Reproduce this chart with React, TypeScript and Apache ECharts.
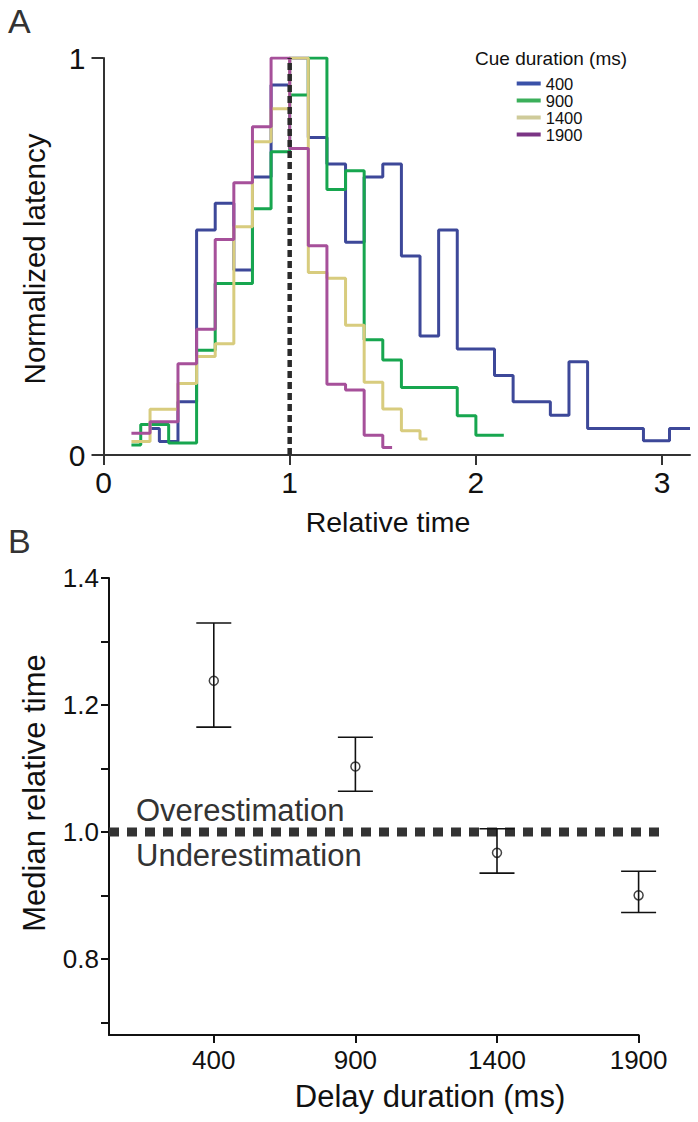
import React, { useEffect, useRef } from "react";
import * as echarts from "echarts";

// ---------- Panel A data ----------
const cueDurations = ["400", "900", "1400", "1900"];

const edges400 = [0.25, 0.3, 0.4, 0.5, 0.6, 0.7, 0.8, 0.9, 1.0, 1.1, 1.2, 1.3, 1.4, 1.5, 1.6, 1.7, 1.8, 1.9, 2.1, 2.2, 2.4, 2.5, 2.6, 2.9, 3.04, 3.15];
const latency400 = [0.067, 0.034, 0.134, 0.567, 0.634, 0.466, 0.7, 0.932, 1.0, 0.8, 0.733, 0.536, 0.7, 0.733, 0.501, 0.3, 0.567, 0.267, 0.2, 0.134, 0.1, 0.235, 0.067, 0.036, 0.067];

const edges900 = [0.15, 0.2, 0.35, 0.5, 0.6, 0.8, 0.9, 1.0, 1.1, 1.2, 1.3, 1.4, 1.5, 1.6, 1.9, 2.0, 2.15];
const latency900 = [0.025, 0.077, 0.03, 0.264, 0.432, 0.62, 0.764, 0.907, 1.0, 0.669, 0.716, 0.29, 0.239, 0.17, 0.099, 0.05];

const edges1400 = [0.15, 0.25, 0.4, 0.5, 0.6, 0.7, 0.8, 0.9, 1.0, 1.1, 1.2, 1.3, 1.4, 1.5, 1.6, 1.7, 1.74];
const latency1400 = [0.034, 0.115, 0.18, 0.248, 0.28, 0.575, 0.789, 0.872, 1.0, 0.46, 0.445, 0.327, 0.183, 0.116, 0.061, 0.04];

const edges1900 = [0.15, 0.25, 0.4, 0.5, 0.6, 0.7, 0.8, 0.9, 1.0, 1.1, 1.2, 1.3, 1.4, 1.5, 1.55];
const latency1900 = [0.055, 0.084, 0.23, 0.317, 0.543, 0.686, 0.827, 1.0, 0.772, 0.527, 0.178, 0.164, 0.05, 0.019];

const relTimeTicks = [0, 1, 2, 3];
const latencyTicks = [0, 1];

// ---------- Panel B data ----------
const delayDurations = [400, 900, 1400, 1900];
const medianRelTime = [1.238, 1.103, 0.967, 0.9];
const errLow = [1.165, 1.064, 0.935, 0.873];
const errHigh = [1.329, 1.149, 1.005, 0.938];
const medianTicks = [0.7, 0.8, 0.9, 1.0, 1.1, 1.2, 1.3, 1.4];
const medianLabels = [0.8, 1.0, 1.2, 1.4];
const referenceLine = [[30, 1978, 1.0]];

const histColors = ["#3d4899", "#17a64f", "#d8cc7e", "#a6509a"];
const legendColors = ["#3a51a8", "#3baf5a", "#cfcb9a", "#7b3585"];

const FONT = "'Liberation Sans', Arial, Helvetica, sans-serif";

function stepPoints(edges: number[], vals: number[]) {
  return edges.map((e, i) => [e, i < vals.length ? vals[i] : vals[vals.length - 1]]);
}

export default function App() {
  const ref = useRef<HTMLDivElement>(null);

  useEffect(() => {
    const chart = echarts.init(ref.current!, null, { renderer: "svg" });
    const hist = [
      [edges400, latency400],
      [edges900, latency900],
      [edges1400, latency1400],
      [edges1900, latency1900],
    ];

    const histSeries = hist.map(([e, v], i) => ({
      type: "line",
      name: cueDurations[i],
      xAxisIndex: 0,
      yAxisIndex: 0,
      step: "end",
      symbol: "none",
      data: stepPoints(e as number[], v as number[]),
      lineStyle: { color: histColors[i], width: 3 },
      itemStyle: { color: histColors[i] },
      z: 2 + i,
    }));

    const titleStyle = (text: string, size: number) => ({
      text,
      fontSize: size,
      fill: "#111",
      fontFamily: FONT,
      align: "center",
      verticalAlign: "middle",
    });

    const option: any = {
      animation: false,
      backgroundColor: "#fff",
      textStyle: { fontFamily: FONT },
      grid: [
        { left: 103.5, top: 58, width: 586.5, height: 397 },
        { left: 109, top: 578, width: 529.6, height: 457 },
      ],
      xAxis: [
        {
          gridIndex: 0,
          type: "value",
          min: 0,
          max: 3.15,
          axisLine: { show: true, onZero: false, lineStyle: { color: "#333", width: 2 } },
          axisTick: { show: true, length: 10, customValues: relTimeTicks, lineStyle: { color: "#333", width: 2 } },
          axisLabel: { customValues: relTimeTicks, fontSize: 30, color: "#111", margin: 12, fontFamily: FONT },
          splitLine: { show: false },
        },
        {
          gridIndex: 1,
          type: "value",
          min: 30,
          max: 1900,
          axisLine: { show: true, onZero: false, lineStyle: { color: "#111", width: 2 } },
          axisTick: { show: true, length: 8, customValues: delayDurations, lineStyle: { color: "#111", width: 2 } },
          axisLabel: {
            customValues: delayDurations,
            fontSize: 26,
            color: "#111",
            margin: 12,
            fontFamily: FONT,
            formatter: (v: number) => String(v),
          },
          splitLine: { show: false },
        },
      ],
      yAxis: [
        {
          gridIndex: 0,
          type: "value",
          min: 0,
          max: 1,
          axisLine: { show: true, onZero: false, lineStyle: { color: "#333", width: 2 } },
          axisTick: { show: true, length: 12, customValues: latencyTicks, lineStyle: { color: "#333", width: 2 } },
          axisLabel: { customValues: latencyTicks, fontSize: 30, color: "#111", margin: 18, fontFamily: FONT },
          splitLine: { show: false },
        },
        {
          gridIndex: 1,
          type: "value",
          min: 0.68,
          max: 1.4,
          axisLine: { show: true, onZero: false, lineStyle: { color: "#111", width: 2 } },
          axisTick: { show: true, length: 8, customValues: medianTicks, lineStyle: { color: "#111", width: 2 } },
          axisLabel: {
            customValues: medianLabels,
            fontSize: 26,
            color: "#111",
            margin: 10,
            fontFamily: FONT,
            formatter: (v: number) => v.toFixed(1),
          },
          splitLine: { show: false },
        },
      ],
      legend: {
        orient: "vertical",
        left: 516.7,
        top: 75,
        padding: 0,
        itemGap: 0,
        itemWidth: 24,
        itemHeight: 4,
        icon: "rect",
        textStyle: { fontSize: 16.5, lineHeight: 16.7, color: "#111", fontFamily: FONT },
        data: cueDurations.map((n, i) => ({ name: n, itemStyle: { color: legendColors[i] } })),
      },
      graphic: [
        { type: "text", left: 8, top: 4, style: { text: "A", fontSize: 34, fill: "#333", fontFamily: FONT } },
        { type: "text", left: 8, top: 524, style: { text: "B", fontSize: 34, fill: "#333", fontFamily: FONT } },
        {
          type: "text",
          x: 475,
          y: 58,
          style: { text: "Cue duration (ms)", fontSize: 19, fill: "#111", fontFamily: FONT, verticalAlign: "middle" },
        },
        { type: "text", x: 388, y: 522, style: titleStyle("Relative time", 28.5) },
        { type: "text", x: 34, y: 259, rotation: Math.PI / 2, style: titleStyle("Normalized latency", 29.5) },
        { type: "text", x: 430, y: 1096, style: titleStyle("Delay duration (ms)", 31) },
        { type: "text", x: 34, y: 793, rotation: Math.PI / 2, style: titleStyle("Median relative time", 31) },
        {
          type: "text",
          x: 136,
          y: 810,
          style: { text: "Overestimation", fontSize: 31, fill: "#333", fontFamily: FONT, verticalAlign: "middle" },
        },
        {
          type: "text",
          x: 136,
          y: 855.5,
          style: { text: "Underestimation", fontSize: 31, fill: "#333", fontFamily: FONT, verticalAlign: "middle" },
        },
      ],
      series: [
        ...histSeries,
        {
          type: "line",
          name: "ref1",
          xAxisIndex: 0,
          yAxisIndex: 0,
          symbol: "none",
          data: [
            [1, 0],
            [1, 1],
          ],
          lineStyle: { color: "#2a2a2a", width: 4.5, type: [7, 4] },
          z: 10,
        },
        {
          type: "custom",
          name: "ref2",
          xAxisIndex: 1,
          yAxisIndex: 1,
          clip: false,
          data: referenceLine,
          renderItem: (params: any, api: any) => {
            const a = api.coord([api.value(0), api.value(2)]);
            const b = api.coord([api.value(1), api.value(2)]);
            return {
              type: "line",
              shape: { x1: a[0], y1: a[1], x2: b[0], y2: b[1] },
              style: { stroke: "#333", lineWidth: 9, lineDash: [10, 8] },
            };
          },
          z: 3,
        },
        {
          type: "custom",
          name: "err",
          xAxisIndex: 1,
          yAxisIndex: 1,
          data: delayDurations.map((d, i) => [d, errLow[i], errHigh[i]]),
          renderItem: (params: any, api: any) => {
            const x = api.value(0);
            const lo = api.coord([x, api.value(1)]);
            const hi = api.coord([x, api.value(2)]);
            const hw = 17.5;
            const st = { stroke: "#111", lineWidth: 1.6 };
            return {
              type: "group",
              children: [
                { type: "line", shape: { x1: lo[0], y1: lo[1], x2: hi[0], y2: hi[1] }, style: st },
                { type: "line", shape: { x1: lo[0] - hw, y1: lo[1], x2: lo[0] + hw, y2: lo[1] }, style: st },
                { type: "line", shape: { x1: hi[0] - hw, y1: hi[1], x2: hi[0] + hw, y2: hi[1] }, style: st },
              ],
            };
          },
          z: 5,
        },
        {
          type: "scatter",
          name: "median",
          xAxisIndex: 1,
          yAxisIndex: 1,
          symbol: "circle",
          symbolSize: 9,
          data: delayDurations.map((d, i) => [d, medianRelTime[i]]),
          itemStyle: { color: "rgba(255,255,255,0)", borderColor: "#111", borderWidth: 1.5 },
          z: 6,
        },
      ],
    };

    chart.setOption(option);
    return () => chart.dispose();
  }, []);

  return (
    <div
      ref={ref}
      style={{ position: "absolute", left: 0, top: 0, width: 698, height: 1122, background: "#fff" }}
    />
  );
}
